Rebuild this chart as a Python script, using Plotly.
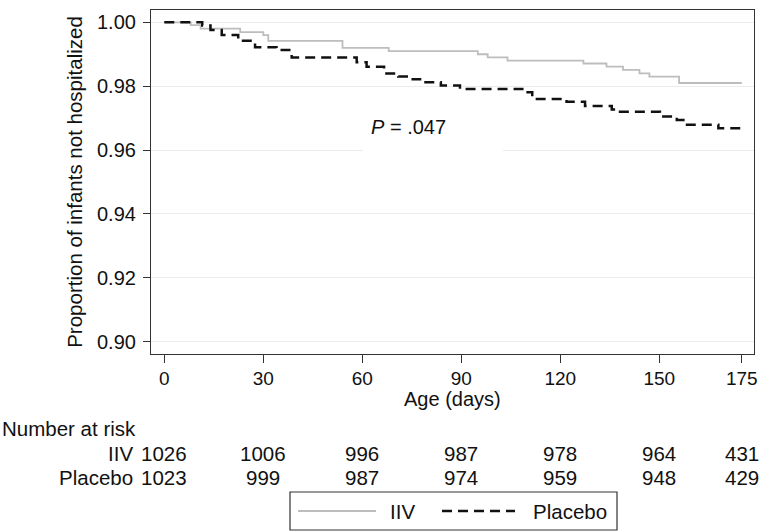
import plotly.graph_objects as go

# ---- data ----
days_iiv = [0, 8, 11, 23, 30, 31.5, 54, 68, 95, 98, 104, 127, 134, 139, 144, 147, 156, 175]
surv_iiv = [1.000, 0.9991, 0.9980, 0.9969, 0.9960, 0.9942, 0.9920, 0.9910, 0.9900, 0.9890,
            0.9880, 0.9871, 0.9861, 0.9851, 0.9840, 0.9830, 0.9810, 0.9810]

days_pbo = [0, 11.5, 14, 17.4, 22.4, 27.5, 34, 38.6, 58.3, 61.3, 66.6, 70.9, 74.5, 77.5, 83.8,
            89.6, 109.5, 111.5, 121.9, 127.5, 135.6, 138.1, 150.2, 155.3, 157.3, 167.9, 175]
surv_pbo = [1.000, 0.9990, 0.9976, 0.9960, 0.9942, 0.9922, 0.9913, 0.9890, 0.9875, 0.9861,
            0.9840, 0.9830, 0.9822, 0.9812, 0.9802, 0.9791, 0.9781, 0.9760, 0.9751, 0.9738,
            0.9727, 0.9720, 0.9705, 0.9694, 0.9679, 0.9668, 0.9668]

risk_days = [0, 30, 60, 90, 120, 150, 175]
risk_iiv = [1026, 1006, 996, 987, 978, 964, 431]
risk_pbo = [1023, 999, 987, 974, 959, 948, 429]
y_ticks = [0.90, 0.92, 0.94, 0.96, 0.98, 1.00]
p_text = "<i>P</i> = .047"

# ---- layout geometry ----
W, H = 760, 532
L, R, T, B = 151, 6, 10, 178
PW, PH = W - L - R, H - T - B
FONT = "Liberation Sans, Arial, Helvetica, sans-serif"
TXT = "#111111"


def px(xp):
    return (xp - L) / PW


def py(yp):
    return (H - B - yp) / PH


fig = go.Figure()
fig.add_trace(go.Scatter(x=days_iiv, y=surv_iiv, mode="lines", name="IIV", showlegend=False,
                         line=dict(shape="hv", color="#bdbdbd", width=1.8)))
fig.add_trace(go.Scatter(x=days_pbo, y=surv_pbo, mode="lines", name="Placebo", showlegend=False,
                         line=dict(shape="hv", color="#111111", width=2.5, dash="10px,6px")))

ann = []
# P value label
ann.append(dict(x=74, y=0.9672, xref="x", yref="y", text=p_text, showarrow=False,
                font=dict(size=20, color=TXT)))
# x-axis title
ann.append(dict(x=0.5, y=py(399), xref="paper", yref="paper", text="Age (days)",
                xanchor="center", yanchor="middle", showarrow=False, font=dict(size=20, color=TXT)))
# risk table
ann.append(dict(x=px(0), y=py(428), xref="paper", yref="paper", text="Number at risk",
                xanchor="left", yanchor="middle", showarrow=False, font=dict(size=20.5, color=TXT)))
for row_vals, row_name, ypix in [(risk_iiv, "IIV", 453), (risk_pbo, "Placebo", 477)]:
    ann.append(dict(x=risk_days[0], y=py(ypix), xref="x", yref="paper", text=row_name,
                    xanchor="right", yanchor="middle", xshift=-29, showarrow=False,
                    font=dict(size=20.5, color=TXT)))
    for d, v in zip(risk_days, row_vals):
        ann.append(dict(x=d, y=py(ypix), xref="x", yref="paper", text=str(v),
                        xanchor="center", yanchor="middle", showarrow=False,
                        font=dict(size=20.5, color=TXT)))
# custom legend
leg_y = py(511)
ann.append(dict(x=px(388), y=leg_y, xref="paper", yref="paper", text="IIV", xanchor="left",
                yanchor="middle", showarrow=False, font=dict(size=20.5, color=TXT)))
ann.append(dict(x=px(531), y=leg_y, xref="paper", yref="paper", text="Placebo", xanchor="left",
                yanchor="middle", showarrow=False, font=dict(size=20.5, color=TXT)))

shapes = [
    # white backing behind the P label (interrupts the gridline)
    dict(type="rect", xref="x", yref="y", x0=60.2, x1=102.6, y0=0.9585, y1=0.9615,
         fillcolor="white", line=dict(width=0), layer="between"),
    # legend box and samples
    dict(type="rect", xref="paper", yref="paper", x0=px(290), x1=px(617), y0=py(530), y1=py(492),
         line=dict(color="#333", width=1.2), fillcolor="rgba(0,0,0,0)"),
    dict(type="line", xref="paper", yref="paper", x0=px(298), x1=px(376), y0=leg_y, y1=leg_y,
         line=dict(color="#bdbdbd", width=1.8)),
    dict(type="line", xref="paper", yref="paper", x0=px(442), x1=px(515), y0=leg_y, y1=leg_y,
         line=dict(color="#111111", width=2.5, dash="10px,6px")),
]

fig.update_layout(
    width=W, height=H,
    margin=dict(l=L, r=R, t=T, b=B, autoexpand=False),
    paper_bgcolor="white", plot_bgcolor="white",
    font=dict(family=FONT, size=20, color=TXT),
    annotations=ann, shapes=shapes, showlegend=False,
)
fig.update_xaxes(range=[-4.03, 178.7], tickvals=risk_days, ticks="outside", ticklen=8,
                 tickcolor="#333", tickwidth=1, showline=True, linecolor="#333", linewidth=1.2,
                 mirror=True, showgrid=False, zeroline=False, tickfont=dict(size=19),
                 ticklabelstandoff=-1)
fig.update_yaxes(range=[0.89615, 1.00385], tickvals=y_ticks, tickformat=".2f", ticks="outside",
                 ticklen=7, tickcolor="#333", tickwidth=1, showline=True, linecolor="#333",
                 linewidth=1.2, mirror=True, showgrid=True, gridcolor="#ececec", gridwidth=1,
                 zeroline=False, tickfont=dict(size=20), ticklabelstandoff=3,
                 title=dict(text="Proportion of infants not hospitalized", font=dict(size=20.5),
                            standoff=8))

fig.write_html("out.html", config={"displayModeBar": False},
               post_script="document.body.style.margin='0px';document.body.style.overflow='hidden';")
